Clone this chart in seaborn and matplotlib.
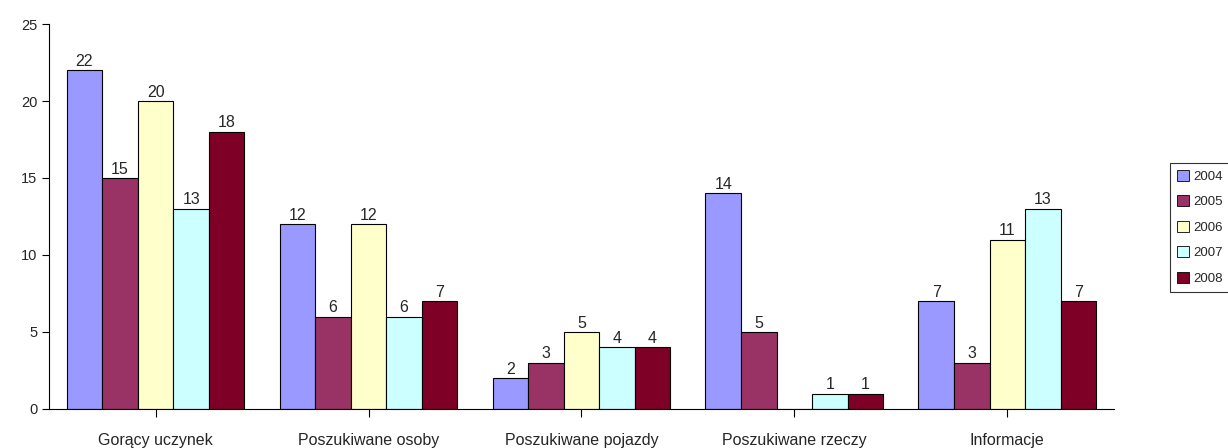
import matplotlib
matplotlib.use("Agg")
import matplotlib.pyplot as plt
import seaborn as sns
import pandas as pd
import numpy as np

categories = ["Gorący uczynek", "Poszukiwane osoby", "Poszukiwane pojazdy", "Poszukiwane rzeczy", "Informacje"]
years = ["2004", "2005", "2006", "2007", "2008"]
v2004 = [22, 12, 2, 14, 7]
v2005 = [15, 6, 3, 5, 3]
v2006 = [20, 12, 5, 0, 11]
v2007 = [13, 6, 4, 1, 13]
v2008 = [18, 7, 4, 1, 7]
colors = ["#9999FF", "#993366", "#FFFFCC", "#CCFFFF", "#7F0026"]

series = [v2004, v2005, v2006, v2007, v2008]
rows = []
for y, vals in zip(years, series):
    for c, v in zip(categories, vals):
        rows.append({"cat": c, "year": y, "val": v})
df = pd.DataFrame(rows)

sns.set_style("white")
plt.rcParams["font.family"] = ["Liberation Sans", "DejaVu Sans"]

fig = plt.figure(figsize=(12.28, 4.48), dpi=100)
ax = fig.add_axes([0.040, 0.0871, 0.867, 0.8593])
sns.barplot(data=df, x="cat", y="val", hue="year", order=categories, hue_order=years,
            palette=colors, width=0.835, gap=0, edgecolor="black", linewidth=0.8,
            saturation=1, ax=ax, legend=False)

for cont, vals in zip(ax.containers, series):
    labels = [str(v) if v > 0 else "" for v in vals]
    ax.bar_label(cont, labels=labels, padding=1, fontsize=11.5)

ax.set_ylim(0, 25)
ax.set_yticks([0, 5, 10, 15, 20, 25])
ax.set_xlim(-0.5, 4.5)
ax.set_xlabel("")
ax.set_ylabel("")
for s in ["top", "right"]:
    ax.spines[s].set_visible(False)
for s in ["left", "bottom"]:
    ax.spines[s].set_color("black")
    ax.spines[s].set_linewidth(0.8)
ax.tick_params(axis="y", direction="out", length=5, width=0.8, labelsize=10.5, color="black", left=True)
ax.tick_params(axis="x", direction="out", length=6, width=0.8, labelsize=11.5, color="black", bottom=True, pad=11)

from matplotlib.patches import Patch
handles = [Patch(facecolor=c, edgecolor="black", linewidth=0.6) for c in colors]
leg = fig.legend(handles, years, loc="upper left", bbox_to_anchor=(0.953, 0.636),
                 fontsize=9.5, frameon=True, fancybox=False, edgecolor="black",
                 handlelength=0.9, handleheight=0.9, handletextpad=0.35,
                 labelspacing=0.95, borderpad=0.5, borderaxespad=0)
leg.get_frame().set_linewidth(0.8)

fig.savefig("out.png", dpi=100)
